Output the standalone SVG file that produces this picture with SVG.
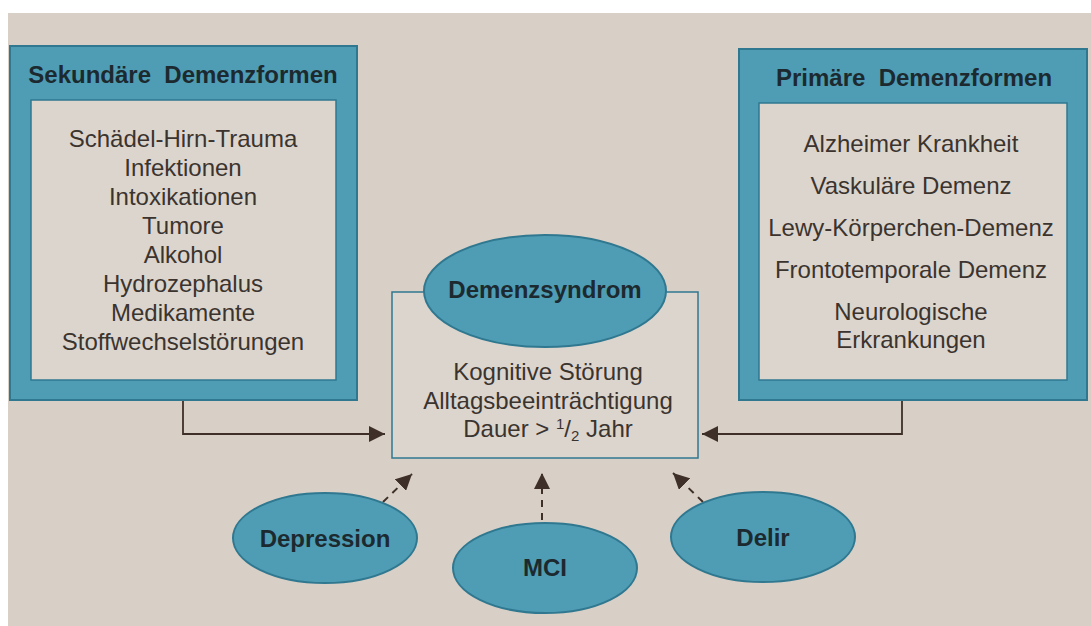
<svg xmlns="http://www.w3.org/2000/svg" width="1091" height="626" viewBox="0 0 1091 626">
<defs>
<style>
.outer{fill:#4f9db5;stroke:#2f7890;stroke-width:2}
.inner{fill:#dcd5ce;stroke:#2f7890;stroke-width:1.5}
.ell{fill:#4f9db5;stroke:#2f7890;stroke-width:2}
.title{font-family:"Liberation Sans",Arial,sans-serif;font-weight:bold;font-size:24px;fill:#1c2a30;text-anchor:middle;white-space:pre}
.item{font-family:"Liberation Sans",Arial,sans-serif;font-size:24px;fill:#3b342e;text-anchor:middle}
.lab{font-family:"Liberation Sans",Arial,sans-serif;font-weight:bold;font-size:24px;fill:#1c2a30;text-anchor:middle}
.con{fill:none;stroke:#3e3029;stroke-width:1.8}
.dash{fill:none;stroke:#3e3029;stroke-width:2;stroke-dasharray:7 6}
</style>
<marker id="ah" viewBox="0 0 10 10" refX="10" refY="5" markerWidth="16" markerHeight="16" markerUnits="userSpaceOnUse" orient="auto">
<path d="M0,0 L10,5 L0,10 Z" fill="#3e3029"/>
</marker>
</defs>
<rect x="0" y="0" width="1091" height="626" fill="#ffffff"/>
<rect x="8" y="13" width="1083" height="613" fill="#d8cfc6"/>

<g id="connectors">
<polyline class="con" points="183,400 183,434 385,434" marker-end="url(#ah)"/>
<polyline class="con" points="902,400 902,434 702,434" marker-end="url(#ah)"/>
<line class="dash" x1="383" y1="502" x2="412" y2="474" marker-end="url(#ah)"/>
<line class="dash" x1="542" y1="520" x2="542" y2="473" marker-end="url(#ah)"/>
<line class="dash" x1="703" y1="502" x2="673" y2="473" marker-end="url(#ah)"/>
</g>

<g id="sekundaer">
<rect class="outer" x="10" y="46" width="347" height="354"/>
<rect class="inner" x="31" y="100" width="305" height="280"/>
<text class="title" x="183" y="83" xml:space="preserve">Sekundäre  Demenzformen</text>
<text class="item" x="183" y="147">Schädel-Hirn-Trauma</text>
<text class="item" x="183" y="176">Infektionen</text>
<text class="item" x="183" y="205">Intoxikationen</text>
<text class="item" x="183" y="234">Tumore</text>
<text class="item" x="183" y="263">Alkohol</text>
<text class="item" x="183" y="292">Hydrozephalus</text>
<text class="item" x="183" y="321">Medikamente</text>
<text class="item" x="183" y="350">Stoffwechselstörungen</text>
</g>

<g id="primaer">
<rect class="outer" x="739" y="49" width="348" height="351"/>
<rect class="inner" x="759" y="103" width="308" height="277"/>
<text class="title" x="914" y="86" xml:space="preserve">Primäre  Demenzformen</text>
<text class="item" x="911" y="152">Alzheimer Krankheit</text>
<text class="item" x="911" y="194">Vaskuläre Demenz</text>
<text class="item" x="911" y="236">Lewy-Körperchen-Demenz</text>
<text class="item" x="911" y="278">Frontotemporale Demenz</text>
<text class="item" x="911" y="320">Neurologische</text>
<text class="item" x="911" y="348">Erkrankungen</text>
</g>

<g id="demenzsyndrom">
<rect class="inner" x="392" y="292" width="306" height="166"/>
<ellipse class="ell" cx="545" cy="291" rx="121" ry="56"/>
<text class="lab" x="545" y="298">Demenzsyndrom</text>
<text class="item" x="548" y="380">Kognitive Störung</text>
<text class="item" x="548" y="409">Alltagsbeeinträchtigung</text>
<text class="item" x="548" y="437">Dauer &gt; <tspan font-size="15" dy="-8">1</tspan><tspan dy="8">/</tspan><tspan font-size="15" dy="4">2</tspan><tspan dy="-4"> Jahr</tspan></text>
</g>

<g id="depression">
<ellipse class="ell" cx="325" cy="538" rx="92" ry="45"/>
<text class="lab" x="325" y="547">Depression</text>
</g>

<g id="mci">
<ellipse class="ell" cx="545" cy="568" rx="92" ry="45"/>
<text class="lab" x="545" y="576">MCI</text>
</g>

<g id="delir">
<ellipse class="ell" cx="763" cy="537" rx="92" ry="45"/>
<text class="lab" x="763" y="546">Delir</text>
</g>
</svg>
